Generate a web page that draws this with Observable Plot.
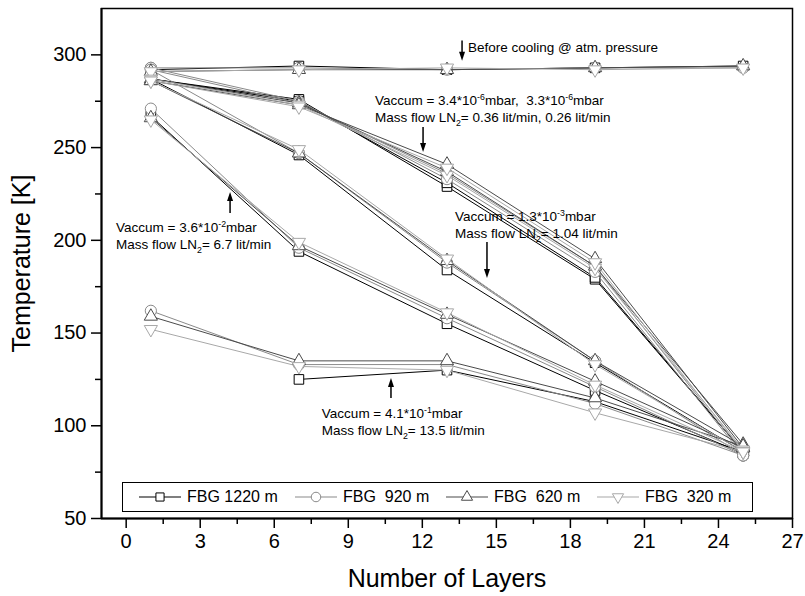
<!DOCTYPE html>
<html><head><meta charset="utf-8">
<script src="https://cdn.jsdelivr.net/npm/d3@7"></script>
<script src="https://cdn.jsdelivr.net/npm/@observablehq/plot@0.6"></script>
<style>
body{margin:0;background:#fff;font-family:"Liberation Sans",Arial,sans-serif;}
#wrap{position:relative;width:805px;height:596px;}
#legend{position:absolute;left:122px;top:482px;width:631px;height:30px;border:1px solid #000;background:#fff;box-sizing:border-box;}
.item{position:absolute;top:0;height:28px;display:flex;align-items:center;font-size:16px;white-space:pre;color:#000;}
.item svg{margin-right:6px;}
</style></head><body><div id="wrap"></div>
<script>
// ---------- data ----------
const layers = [1, 7, 13, 19, 25];
const sensors = ["FBG 1220 m", "FBG  920 m", "FBG  620 m", "FBG  320 m"];
const sensorColors = ["#000000", "#8a8a8a", "#4a4a4a", "#a8a8a8"];
const runNames = ["atm", "3.4e-6", "3.3e-6", "1.3e-3", "3.6e-2", "4.1e-1"];
// each run: rows = sensors (1220, 920, 620, 320), columns = layers
const runAtm  = [[292, 294, 292, 293, 294], [293, 293, 292, 293, 293], [291, 292, 292, 293, 294], [291, 292, 293, 292, 293]];
const run34e6 = [[287, 276, 229, 179, 86], [293, 275, 233, 183, 84], [287, 274, 237, 186, 90], [287, 273, 235, 185, 87]];
const run33e6 = [[287, 275, 231, 180, 86], [292, 274, 236, 186, 85], [286, 273, 241, 190, 88], [286, 272, 239, 188, 86]];
const run13e3 = [[287, 246, 184, 134, 86], [292, 247, 188, 135, 84], [286, 247, 189, 135, 89], [286, 249, 190, 133, 86]];
const run36e2 = [[267, 194, 155, 119, 85], [271, 196, 158, 121, 84], [266, 197, 160, 124, 88], [265, 199, 161, 122, 86]];
const run41e1 = [[null, 125, 130, 113, 86], [162, 133, 133, 112, 84], [159, 135, 135, 115, 89], [152, 132, 130, 107, 86]];
const runs = [runAtm, run34e6, run33e6, run13e3, run36e2, run41e1];

const xTicks = [0, 3, 6, 9, 12, 15, 18, 21, 24, 27];
const xMinor = [1.5, 4.5, 7.5, 10.5, 13.5, 16.5, 19.5, 22.5, 25.5];
const yTicks = [50, 100, 150, 200, 250, 300];
const yMinor = [75, 125, 175, 225, 275];

// annotations (text lines with ^{sup} and _{sub})
const noteText = [
  {x: 13.87, y: 301.5, lines: ["Before cooling @ atm. pressure"]},
  {x: 10.1, y: 272.7, lines: ["Vaccum = 3.4*10^{-6}mbar,  3.3*10^{-6}mbar", "Mass flow LN_{2}= 0.36 lit/min, 0.26 lit/min"]},
  {x: 13.34, y: 210.1, lines: ["Vaccum = 1.3*10^{-3}mbar", "Mass flow LN_{2}= 1.04 lit/min"]},
  {x: -0.39, y: 204.2, lines: ["Vaccum = 3.6*10^{-2}mbar", "Mass flow LN_{2}= 6.7 lit/min"]},
  {x: 7.95, y: 103.9, lines: ["Vaccum = 4.1*10^{-1}mbar", "Mass flow LN_{2}= 13.5 lit/min"]}
];
// arrows: from y1 to y2 (head at y2)
const noteArrows = [
  {x: 13.63, y1: 307.5, y2: 296.5},
  {x: 12.05, y1: 260.8, y2: 247.4},
  {x: 14.64, y1: 198.8, y2: 179.4},
  {x: 4.23, y1: 214.5, y2: 225.8},
  {x: 10.75, y1: 114.7, y2: 125.5}
];

// ---------- build table ----------
const rows = [];
runs.forEach((run, ri) => run.forEach((vals, si) => vals.forEach((v, li) => {
  if (v != null) rows.push({run: runNames[ri], sensor: sensors[si], x: layers[li], y: v});
})));

const triangleDown = {
  draw(context, size) {
    const y = -Math.sqrt(size / (Math.sqrt(3) * 3));
    context.moveTo(0, -y * 2);
    context.lineTo(-Math.sqrt(3) * y, y);
    context.lineTo(Math.sqrt(3) * y, y);
    context.closePath();
  }
};
const sensorSymbols = ["square", "circle", "triangle", triangleDown];
const sensorR = [5.4, 5.6, 4.9, 4.9];

const FONT = "'Liberation Sans', Arial, sans-serif";

function addRich(textSel, str, baseSize) {
  const parts = str.split(/(\^\{[^}]*\}|_\{[^}]*\})/).filter(s => s.length);
  let shift = 0;
  for (const p of parts) {
    let content = p, dy = 0, size = baseSize;
    if (p.startsWith("^{")) { content = p.slice(2, -1); dy = -baseSize * 0.4; size = baseSize * 0.65; }
    else if (p.startsWith("_{")) { content = p.slice(2, -1); dy = baseSize * 0.3; size = baseSize * 0.65; }
    const t = textSel.append("tspan").attr("font-size", size).text(content);
    const need = dy - shift;
    if (need !== 0) t.attr("dy", need);
    shift = dy;
  }
}

function annotations(index, scales, values, dimensions, context) {
  const g = d3.create("svg:g").attr("font-family", FONT).attr("fill", "#000").attr("text-anchor", "start");
  const fs = 13.5;
  for (const n of noteText) {
    const x0 = scales.x(n.x), y0 = scales.y(n.y);
    n.lines.forEach((line, i) => {
      const t = g.append("text").attr("x", x0).attr("y", y0 + i * 17).attr("font-size", fs).style("white-space", "pre");
      addRich(t, line, fs);
    });
  }
  for (const a of noteArrows) {
    const x = scales.x(a.x), y1 = scales.y(a.y1), y2 = scales.y(a.y2);
    const dir = Math.sign(y2 - y1);
    const hl = 9, hw = 3;
    g.append("line").attr("x1", x).attr("x2", x).attr("y1", y1).attr("y2", y2 - dir * hl + dir).attr("stroke", "#000").attr("stroke-width", 1.5);
    g.append("path").attr("d", `M${x},${y2}L${x - hw},${y2 - dir * hl}L${x + hw},${y2 - dir * hl}Z`).attr("fill", "#000");
  }
  return g.node();
}

const seriesMarks = [];
sensors.forEach((s, si) => {
  const data = rows.filter(d => d.sensor === s);
  seriesMarks.push(Plot.line(data, {x: "x", y: "y", z: "run", stroke: sensorColors[si], strokeWidth: 1}));
  seriesMarks.push(Plot.dot(data, {x: "x", y: "y", symbol: sensorSymbols[si], r: sensorR[si], stroke: sensorColors[si], fill: "white", strokeWidth: 1}));
});

const chart = Plot.plot({
  width: 805, height: 596,
  marginLeft: 101, marginRight: 13, marginTop: 8, marginBottom: 78,
  style: {fontFamily: FONT, background: "white", color: "#000"},
  x: {domain: [-1, 27], label: null},
  y: {domain: [50, 325], label: null},
  marks: [
    Plot.frame({stroke: "#000", strokeWidth: 1.5}),
    Plot.ruleX([-1], {stroke: "#000", strokeWidth: 2}),
    Plot.ruleY([50], {stroke: "#000", strokeWidth: 2}),
    Plot.axisY(yTicks, {tickSize: 10, tickPadding: 5, fontSize: 20, strokeWidth: 1.5, label: null}),
    Plot.axisY(yMinor, {tickSize: 6, tickFormat: () => "", strokeWidth: 1.5, label: null}),
    Plot.axisX(xTicks, {tickSize: 10, tickPadding: 5, fontSize: 20, strokeWidth: 1.5, label: null}),
    Plot.axisX(xMinor, {tickSize: 6, tickFormat: () => "", strokeWidth: 1.5, label: null}),
    Plot.text(["Temperature [K]"], {frameAnchor: "left", dx: -80, rotate: -90, fontSize: 25, textAnchor: "middle", lineAnchor: "middle", text: d => d}),
    Plot.text(["Number of Layers"], {frameAnchor: "bottom", dy: 60, fontSize: 25, textAnchor: "middle", lineAnchor: "middle", text: d => d}),
    ...seriesMarks,
    annotations
  ]
});

const wrap = document.getElementById("wrap");
wrap.appendChild(chart);

// legend
const legend = document.createElement("div");
legend.id = "legend";
wrap.appendChild(legend);
const legendLeft = [16, 172, 323, 474]; // item offsets inside the box
sensors.forEach((s, si) => {
  const item = document.createElement("div");
  item.className = "item";
  item.style.left = legendLeft[si] + "px";
  const svg = d3.create("svg").attr("width", 42).attr("height", 16);
  svg.append("line").attr("x1", 0).attr("x2", 42).attr("y1", 8).attr("y2", 8).attr("stroke", sensorColors[si]).attr("stroke-width", 1.2);
  const sym = typeof sensorSymbols[si] === "string"
    ? {square: d3.symbolSquare, circle: d3.symbolCircle, triangle: d3.symbolTriangle}[sensorSymbols[si]]
    : sensorSymbols[si];
  const r = sensorR[si] * 0.85;
  svg.append("path").attr("transform", "translate(21,8)").attr("d", d3.symbol(sym, r * r * Math.PI)()).attr("fill", "white").attr("stroke", sensorColors[si]);
  item.appendChild(svg.node());
  const span = document.createElement("span");
  span.textContent = s;
  item.appendChild(span);
  legend.appendChild(item);
});
</script>
</body></html>
